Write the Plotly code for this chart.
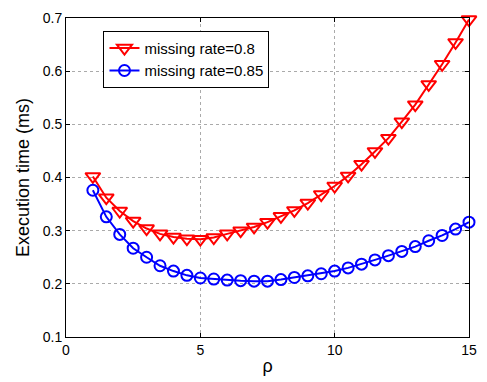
import plotly.graph_objects as go

rho = [1 + 0.5 * i for i in range(29)]
rate_08 = [0.402, 0.362, 0.337, 0.318, 0.304, 0.294, 0.288, 0.285, 0.284, 0.287,
           0.294, 0.300, 0.307, 0.316, 0.327, 0.338, 0.352, 0.368, 0.384, 0.403,
           0.425, 0.449, 0.474, 0.505, 0.537, 0.575, 0.613, 0.654, 0.697]
rate_085 = [0.376, 0.326, 0.293, 0.267, 0.250, 0.234, 0.224, 0.216, 0.211, 0.209,
            0.207, 0.206, 0.205, 0.205, 0.208, 0.212, 0.215, 0.219, 0.224, 0.230,
            0.237, 0.245, 0.253, 0.261, 0.270, 0.281, 0.291, 0.303, 0.316]
names = ["missing rate=0.8", "missing rate=0.85"]
x_ticks = [0, 5, 10, 15]
y_ticks = [0.1, 0.2, 0.3, 0.4, 0.5, 0.6, 0.7]

FONT = "Liberation Sans, Arial, sans-serif"

fig = go.Figure()
fig.add_trace(go.Scatter(
    x=rho, y=rate_08, name=names[0], mode="lines+markers",
    line=dict(color="#FF0000", width=2),
    marker=dict(symbol="triangle-down-open", size=13, color="#FF0000",
                line=dict(width=2, color="#FF0000")),
    cliponaxis=False,
))
fig.add_trace(go.Scatter(
    x=rho, y=rate_085, name=names[1], mode="lines+markers",
    line=dict(color="#0000FF", width=2),
    marker=dict(symbol="circle-open", size=11, color="#0000FF",
                line=dict(width=2, color="#0000FF")),
    cliponaxis=False,
))

axis_common = dict(
    showline=True, linecolor="black", linewidth=1, mirror="ticks",
    ticks="inside", ticklen=4, tickcolor="black",
    showgrid=True, gridcolor="#aaaaaa", griddash="dot", gridwidth=1,
    zeroline=False, tickfont=dict(family=FONT, size=14, color="black"),
)

fig.update_xaxes(range=[0, 15], tickvals=x_ticks, ticktext=[str(v) for v in x_ticks],
                 title=dict(text="ρ", font=dict(family=FONT, size=18, color="black"),
                            standoff=2),
                 **axis_common)
fig.update_yaxes(range=[0.1, 0.7], tickvals=y_ticks, ticktext=[f"{v:.1f}" for v in y_ticks],
                 title=dict(text="Execution time (ms)",
                            font=dict(family=FONT, size=18, color="black"), standoff=8),
                 **axis_common)

fig.update_layout(
    width=487, height=382,
    margin=dict(l=66, r=10, t=15, b=44),
    paper_bgcolor="white", plot_bgcolor="white",
    font=dict(family=FONT, size=14, color="black"),
    legend=dict(x=0.093, y=0.96, xanchor="left", yanchor="top",
                bgcolor="white", bordercolor="black", borderwidth=1,
                font=dict(family=FONT, size=15, color="black"),
                tracegroupgap=0, itemwidth=30),
    showlegend=True,
)

fig.write_html("out.html")
